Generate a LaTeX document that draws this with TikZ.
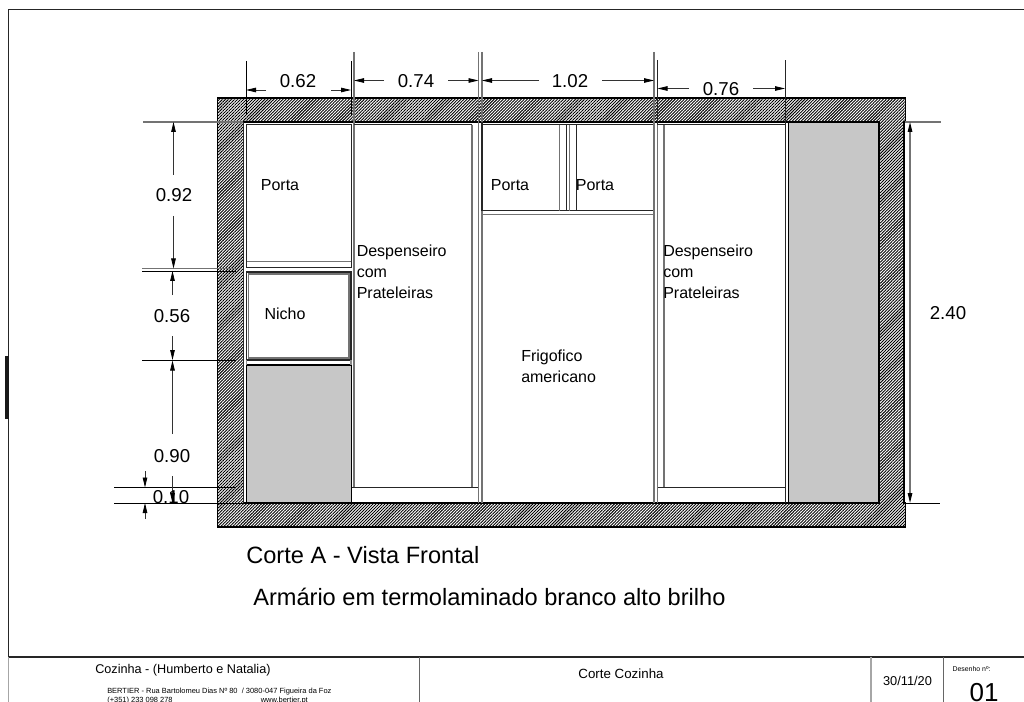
\documentclass[tikz,border=0pt]{standalone}
\usepackage{fontspec}
\setmainfont{Liberation Sans}
\usetikzlibrary{patterns.meta,arrows.meta}
\tikzset{
  wall/.style={draw=black,line width=0.9pt,pattern={Lines[angle=45,distance=1.6pt,line width=0.7pt]},pattern color=black},
  blk/.style={draw=black!85,line width=0.75pt},
  gry/.style={draw=black!55,line width=0.9pt},
  fineline/.style={draw=black,line width=0.6pt},
  dim/.style={draw=black!80,line width=0.6pt,-{Triangle[length=7.5pt,width=3.4pt,black]}},
  panel/.style={fill=black!22,draw=black,line width=1pt},
  dimtxt/.style={font=\fontsize{14}{14}\selectfont,inner sep=0pt},
  lab/.style={font=\fontsize{12}{15.75}\selectfont,inner sep=0pt,align=left},
  captxt/.style={font=\fontsize{17.7}{18}\selectfont,inner sep=0pt,anchor=west},
}
\begin{document}
\begin{tikzpicture}[x=0.75pt,y=-0.75pt]
\useasboundingbox (0,0) rectangle (1024,702);
% sheet frame
\draw[blk] (8.5,657) -- (8.5,9.5) -- (1024,9.5);
\draw[gry,draw=black!35] (8.5,657) -- (8.5,702);
\fill[black!90] (5,356) rectangle (8.5,419);
\draw[blk,line width=0.9pt] (8.5,657) -- (1024,657);
\draw[draw=black!60,line width=0.6pt] (419,657) -- (419,702);
\draw[draw=black!35,line width=0.8pt] (871,657) -- (871,702);
\draw[draw=black!60,line width=0.6pt] (943.5,657) -- (943.5,702);
% walls
\path[wall] (217.5,98) -- (905.5,98) -- (905.5,122) -- (904,122) -- (904,503) -- (905.5,503) -- (905.5,527) -- (217.5,527) -- (217.5,98) -- cycle;
\fill[white] (243,122) rectangle (879,503);
\draw[draw=black,line width=0.9pt] (243,122) -- (879,122) (879,122) -- (879,503) (243,503) -- (879,503);
% grey panels
\path[panel] (246.5,365) rectangle (351.5,503);
\path[panel] (788.5,122) rectangle (879,503);
% left column
\draw[blk] (243.5,122) -- (243.5,503);
\draw[blk] (246.5,125) rectangle (351,268);
\draw[gry] (246.5,261.5) -- (351,261.5);
\draw[blk,line width=1pt] (246.5,272) rectangle (351,360);
\draw[gry] (248.5,274) rectangle (349,358);
\draw[gry,draw=black!45] (246.5,360) -- (246.5,365);
\draw[gry,draw=black!45] (351,360) -- (351,365);
% despenseiro 1
\draw[gry] (354,52) -- (354,487);
\draw[blk] (354,125) -- (472,125);
\draw[gry] (472,125) -- (472,487);
\draw[blk] (351.5,487) -- (478.5,487);
% centre
\draw[gry] (478.5,52) -- (478.5,503);
\draw[gry] (482,52) -- (482,122);
\draw[blk,line width=0.9pt] (482,122) -- (482,211);
\draw[gry] (482,211) -- (482,503);
\draw[blk] (482,125) -- (654,125);
\draw[blk] (482,211) -- (654,211);
\draw[gry] (482,214.5) -- (654,214.5);
\draw[gry] (559.7,125) -- (559.7,211);
\draw[blk] (566.3,125) -- (566.3,211);
\draw[gry] (569.3,125) -- (569.3,211);
\draw[blk] (576.3,125) -- (576.3,211);
\draw[gry,line width=1.1pt] (654,52) -- (654,503);
% despenseiro 2
\draw[blk] (657.5,60) -- (657.5,125);
\draw[gry] (657.5,125) -- (657.5,503);
\draw[gry] (664,125) -- (664,487);
\draw[blk] (657.5,125) -- (785,125) -- (785,60);
\draw[blk] (785,125) -- (785,503);
\draw[blk] (657.5,487) -- (785,487);
% dimension extension lines
\draw[fineline] (246,61) -- (246,115);
\draw[fineline] (351,61) -- (351,115);
\draw[gry] (143,122) -- (243,122);
\draw[gry] (142,268.5) -- (236,268.5);
\draw[fineline] (142,271) -- (236,271);
\draw[fineline] (142,360) -- (236,360);
\draw[fineline] (114,487.5) -- (236,487.5);
\draw[fineline] (114,503) -- (243,503);
\draw[gry] (905,122) -- (941,122);
\draw[fineline] (905,503) -- (940,503);
% named dimension anchors
\coordinate (t1) at (246,90);   \coordinate (t1a) at (266,90);
\coordinate (t2) at (351,90);   \coordinate (t2a) at (331,90);
\coordinate (t3) at (354,80.5); \coordinate (t3a) at (384,80.5);
\coordinate (t4) at (478.5,80.5); \coordinate (t4a) at (448,80.5);
\coordinate (t5) at (482,80.5); \coordinate (t5a) at (539,80.5);
\coordinate (t6) at (654,80.5); \coordinate (t6a) at (602,80.5);
\coordinate (t7) at (657.5,88.5); \coordinate (t7a) at (689,88.5);
\coordinate (t8) at (785,88.5); \coordinate (t8a) at (753,88.5);
\draw[dim] (t1a) -- (t1); \draw[dim] (t2a) -- (t2);
\draw[dim] (t3a) -- (t3); \draw[dim] (t4a) -- (t4);
\draw[dim] (t5a) -- (t5); \draw[dim] (t6a) -- (t6);
\draw[dim] (t7a) -- (t7); \draw[dim] (t8a) -- (t8);
\coordinate (l1) at (173.5,122); \coordinate (l1a) at (173.5,175);
\coordinate (l2) at (173.5,268.5); \coordinate (l2a) at (173.5,216);
\coordinate (l3) at (172.5,271); \coordinate (l3a) at (172.5,295);
\coordinate (l4) at (172.5,360); \coordinate (l4a) at (172.5,336);
\coordinate (l5) at (172.5,360.5); \coordinate (l5a) at (172.5,434);
\coordinate (l6) at (172.5,503); \coordinate (l6a) at (172.5,476);
\coordinate (l7) at (145,487.5); \coordinate (l7a) at (145,471);
\coordinate (l8) at (145,503); \coordinate (l8a) at (145,519);
\draw[dim] (l1a) -- (l1); \draw[dim] (l2a) -- (l2);
\draw[dim] (l3a) -- (l3); \draw[dim] (l4a) -- (l4);
\draw[dim] (l5a) -- (l5); \draw[dim] (l6a) -- (l6);
\draw[dim] (l7a) -- (l7); \draw[dim] (l8a) -- (l8);
\coordinate (r1) at (910,122); \coordinate (r2) at (910,503);
\draw[gry,{Triangle[length=7.5pt,width=3.4pt,black]}-{Triangle[length=7.5pt,width=3.4pt,black]}] (r1) -- (r2);
% dimension texts
\node[dimtxt] (d062) at (298,81) {0.62};
\node[dimtxt] (d074) at (416,81) {0.74};
\node[dimtxt] (d102) at (570,81) {1.02};
\node[dimtxt] (d076) at (721,89) {0.76};
\node[dimtxt] (d092) at (174,195) {0.92};
\node[dimtxt] (d056) at (172,316) {0.56};
\node[dimtxt] (d090) at (172,456) {0.90};
\node[dimtxt] (d010) at (171,497) {0.10};
\node[dimtxt] (d240) at (948,313) {2.40};
% labels
\node[lab] (p1) at (280,185) {Porta};
\node[lab] (p2) at (510,185) {Porta};
\node[lab] (p3) at (595,185) {Porta};
\node[lab] (ni) at (285,314) {Nicho};
\node[lab,anchor=north west] (de1) at (356.5,245) {Despenseiro\\com\\Prateleiras};
\node[lab,anchor=north west] (de2) at (663,245) {Despenseiro\\com\\Prateleiras};
\node[lab,anchor=north west] (fr) at (521,349.5) {Frigofico\\americano};
\node[captxt] (c1) at (246,555.5) {Corte A - Vista Frontal};
\node[captxt] (c2) at (253,596.5) {Armário em termolaminado branco alto brilho};
% title block
\node[inner sep=0pt,anchor=west,font=\fontsize{9.5}{10}\selectfont] (tb1) at (95,670) {Cozinha - (Humberto e Natalia)};
\node[inner sep=0pt,anchor=west,font=\fontsize{5.6}{6}\selectfont] (tb2) at (107,691.5) {BERTIER - Rua Bartolomeu Dias Nº 80~~/ 3080-047 Figueira da Foz};
\node[inner sep=0pt,anchor=west,font=\fontsize{5.6}{6}\selectfont] (tb3) at (107,700.5) {(+351) 233 098 278};
\node[inner sep=0pt,anchor=east,font=\fontsize{5.6}{6}\selectfont] (tb4) at (308,700.5) {www.bertier.pt};
\node[inner sep=0pt,font=\fontsize{10}{10}\selectfont] (tb5) at (621,674) {Corte Cozinha};
\node[inner sep=0pt,font=\fontsize{9.6}{10}\selectfont] (tb6) at (907.5,681) {30/11/20};
\node[inner sep=0pt,font=\fontsize{5.2}{6}\selectfont] (tb7) at (971.5,669) {Desenho nº:};
\node[inner sep=0pt,font=\fontsize{19.5}{20}\selectfont] (tb8) at (984,692.5) {01};
\end{tikzpicture}
\end{document}
